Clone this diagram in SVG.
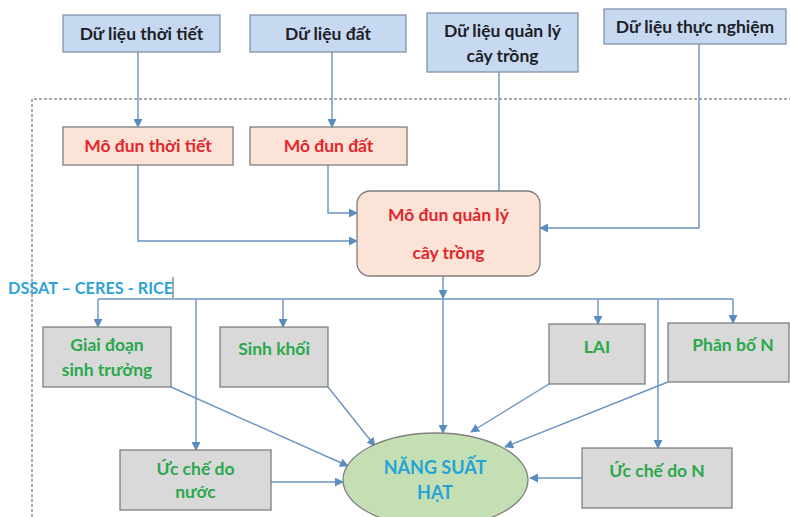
<svg xmlns="http://www.w3.org/2000/svg" width="790" height="517" viewBox="0 0 790 517">
<defs>
<style>
.data{fill:#c6d9f0;stroke:#8093a8;stroke-width:1.3}
.mod{fill:#fbe3d7;stroke:#7f7f7f;stroke-width:1.3}
.gray{fill:#d9d9d9;stroke:#7f7f7f;stroke-width:1.3}
.ell{fill:#c4dfb3;stroke:#7f7f7f;stroke-width:1.3}
text{font-family:Lato,"Open Sans","Liberation Sans",sans-serif;font-weight:700;text-anchor:middle}
.td{fill:#1e1e28;font-size:17.5px}
.tr{fill:#e3262c;font-size:17.5px}
.tg{fill:#2aa84c;font-size:17.5px}
.tb{fill:#25a3d6;font-size:18px}
.c{fill:none;stroke:#6b93c0;stroke-width:1.4}
</style>
<marker id="ah" viewBox="0 0 10 10" refX="9" refY="5" markerWidth="9" markerHeight="9" markerUnits="userSpaceOnUse" orient="auto">
<path d="M0,0 L10,5 L0,10 z" fill="#5b8cc0"/>
</marker>
</defs>
<rect width="790" height="517" fill="#ffffff"/>
<path d="M32,517 V99 H790" fill="none" stroke="#555" stroke-width="1" stroke-dasharray="3,2"/>
<g id="connectors">
<path class="c" d="M138,52 V127" marker-end="url(#ah)"/>
<path class="c" d="M332,52 V127" marker-end="url(#ah)"/>
<path class="c" d="M328,165 V213 H357" marker-end="url(#ah)"/>
<path class="c" d="M138,165 V241 H357" marker-end="url(#ah)"/>
<path class="c" d="M499,72 V191"/>
<path class="c" d="M699,44 V228 H540" marker-end="url(#ah)"/>
<path class="c" d="M443,276 V298" marker-end="url(#ah)"/>
<path class="c" d="M98,299 H733"/>
<path class="c" d="M443,299 V433" marker-end="url(#ah)"/>
<path class="c" d="M98,299 V327" marker-end="url(#ah)"/>
<path class="c" d="M196,299 V450" marker-end="url(#ah)"/>
<path class="c" d="M283,299 V327" marker-end="url(#ah)"/>
<path class="c" d="M598,299 V324" marker-end="url(#ah)"/>
<path class="c" d="M658,299 V448" marker-end="url(#ah)"/>
<path class="c" d="M733,299 V323" marker-end="url(#ah)"/>
<path class="c" d="M171,387 L348,466" marker-end="url(#ah)"/>
<path class="c" d="M328,387 L375,446" marker-end="url(#ah)"/>
<path class="c" d="M271,482 L343,482" marker-end="url(#ah)"/>
<path class="c" d="M549,384 L471,432" marker-end="url(#ah)"/>
<path class="c" d="M668,382 L505,447" marker-end="url(#ah)"/>
<path class="c" d="M582,478 L530,478" marker-end="url(#ah)"/>
<line x1="173" y1="277" x2="173" y2="298" stroke="#555" stroke-width="1"/>
</g>
<g id="n_dl_thoitiet"><rect class="data" x="63" y="15" width="157" height="37"/><text class="td" x="141.5" y="40">Dữ liệu thời tiết</text></g>
<g id="n_dl_dat"><rect class="data" x="250" y="15" width="156" height="37"/><text class="td" x="328" y="40">Dữ liệu đất</text></g>
<g id="n_dl_quanly"><rect class="data" x="427" y="13" width="151" height="59"/><text class="td" x="502.5" y="37">Dữ liệu quản lý</text><text class="td" x="502.5" y="62">cây trồng</text></g>
<g id="n_dl_thucnghiem"><rect class="data" x="604" y="9" width="182" height="35"/><text class="td" x="695" y="33">Dữ liệu thực nghiệm</text></g>
<g id="n_md_thoitiet"><rect class="mod" x="63" y="127" width="170" height="38"/><text class="tr" x="148" y="152">Mô đun thời tiết</text></g>
<g id="n_md_dat"><rect class="mod" x="250" y="127" width="157" height="38"/><text class="tr" x="328.5" y="152">Mô đun đất</text></g>
<g id="n_md_quanly"><rect class="mod" x="357" y="191" width="183" height="85" rx="13"/><text class="tr" x="448.5" y="221">Mô đun quản lý</text><text class="tr" x="448.5" y="259">cây trồng</text></g>
<text x="8" y="294" style="fill:#2ea3d5;font-size:16.3px;text-anchor:start">DSSAT – CERES - RICE</text>
<g id="n_giaidoan"><rect class="gray" x="43" y="327" width="128" height="60"/><text class="tg" x="107" y="351">Giai đoạn</text><text class="tg" x="107" y="376">sinh trưởng</text></g>
<g id="n_sinhkhoi"><rect class="gray" x="220" y="327" width="108" height="60"/><text class="tg" x="274" y="355">Sinh khối</text></g>
<g id="n_lai"><rect class="gray" x="549" y="324" width="96" height="60"/><text class="tg" x="597" y="353">LAI</text></g>
<g id="n_phanbon"><rect class="gray" x="668" y="323" width="121" height="59"/><text class="tg" x="733" y="351">Phân bố N</text></g>
<g id="n_ucchenuoc"><rect class="gray" x="120" y="450" width="151" height="60"/><text class="tg" x="195.5" y="475">Ức chế do</text><text class="tg" x="195.5" y="498">nước</text></g>
<g id="n_ucchen"><rect class="gray" x="582" y="448" width="150" height="60"/><text class="tg" x="657" y="477">Ức chế do N</text></g>
<g id="n_nangsuat"><ellipse class="ell" cx="435.5" cy="480" rx="92.5" ry="47"/><text class="tb" x="435" y="474">NĂNG SUẤT</text><text class="tb" x="435" y="499">HẠT</text></g>
</svg>
